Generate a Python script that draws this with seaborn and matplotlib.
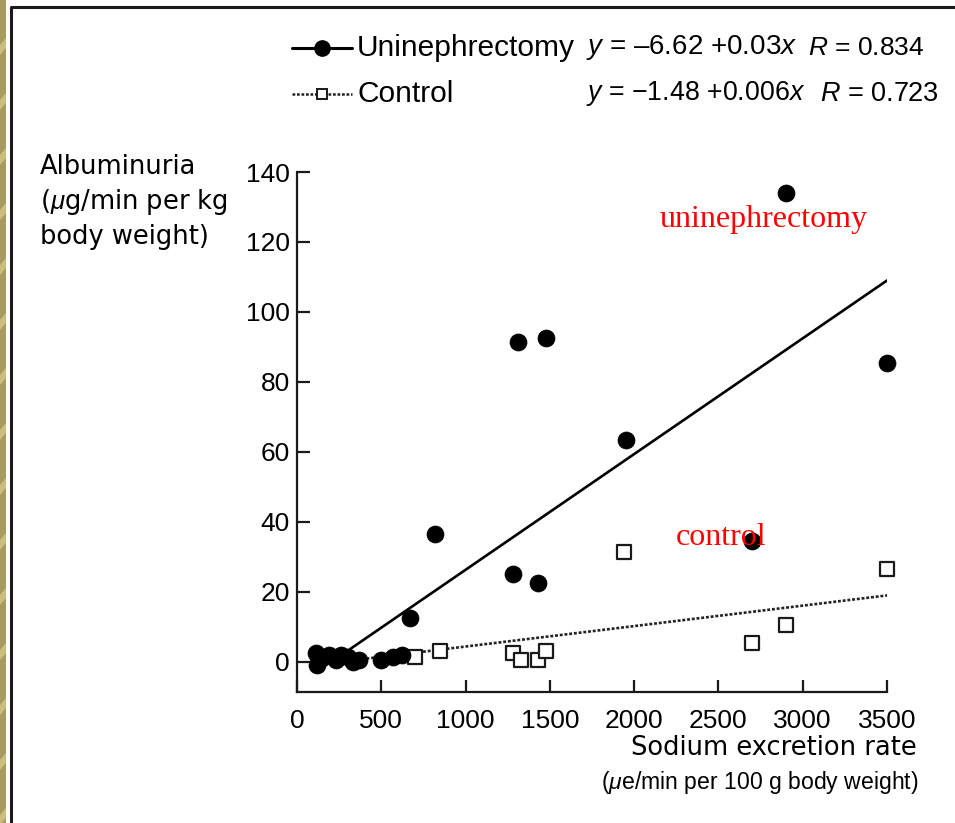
import matplotlib
matplotlib.use("Agg")
import matplotlib.pyplot as plt
import seaborn as sns
from matplotlib.lines import Line2D
from matplotlib.patches import Rectangle, Polygon

# ---------------- data ----------------
uni_x = [110, 120, 150, 190, 230, 260, 300, 330, 370, 500, 570, 620,
         670, 820, 1280, 1310, 1430, 1480, 1950, 2700, 2900, 3500]
uni_y = [2.5, -1.0, 1.0, 2.0, 0.5, 2.0, 1.5, 0.0, 0.5, 0.5, 1.5, 2.0,
         12.5, 36.5, 25.0, 91.5, 22.5, 92.5, 63.5, 34.5, 134.0, 85.5]

ctl_x = [700, 850, 1280, 1330, 1430, 1480, 1940, 2700, 2900, 3500]
ctl_y = [1.5, 3.0, 2.5, 0.5, 0.5, 3.0, 31.5, 5.5, 10.5, 26.5]

uni_fit_x = [310, 3500]
uni_fit_y = [3.5, 109.0]
ctl_fit_x = [300, 3500]
ctl_fit_y = [0.3, 19.0]

x_ticks = [0, 500, 1000, 1500, 2000, 2500, 3000, 3500]
y_ticks = [0, 20, 40, 60, 80, 100, 120, 140]

legend_names = ["Uninephrectomy", "Control"]
legend_eqs = ["$y$ = \u20136.62 +0.03$x$", "$y$ = \u22121.48 +0.006$x$"]
legend_r = ["$R$ = 0.834", "$R$ = 0.723"]

# ---------------- style ----------------
sns.set_style("ticks")
plt.rcParams["font.family"] = ["Liberation Sans", "DejaVu Sans"]
plt.rcParams["mathtext.fontset"] = "custom"
plt.rcParams["mathtext.rm"] = "Liberation Sans"
plt.rcParams["mathtext.it"] = "Liberation Sans:italic"
plt.rcParams["mathtext.bf"] = "Liberation Sans:bold"

INK = "black"
W, H = 955, 823
fig = plt.figure(figsize=(W / 100, H / 100), dpi=100)
fig.patch.set_facecolor("white")


def fx(px):
    return px / W


def fy(py):
    return 1 - py / H


# decorative slide border
fig.add_artist(Rectangle((0, 0), fx(6), 1, transform=fig.transFigure,
                         facecolor="#A99B5F", edgecolor="none", zorder=0))
for k in range(-1, 17):
    y0 = k * 55
    pts = [(fx(0), fy(y0)), (fx(6), fy(y0 - 7)), (fx(6), fy(y0 - 17)),
           (fx(0), fy(y0 - 10))]
    fig.add_artist(Polygon(pts, closed=True, transform=fig.transFigure,
                           facecolor="#CDBE80", edgecolor="none", zorder=0))
fig.add_artist(Line2D([fx(11), fx(11), 1.0], [0, fy(7), fy(7)],
                      transform=fig.transFigure, color="#1a1a1a", lw=2.2))

# ---------------- axes ----------------
ax = fig.add_axes([fx(297), fy(692), fx(887) - fx(297), fy(172) - fy(692)])
ax.set_facecolor("white")
ax.set_xlim(0, 3500)
ax.set_ylim(-8.6, 140)

sns.lineplot(x=uni_fit_x, y=uni_fit_y, color="black", lw=1.9, ax=ax, zorder=2)
sns.lineplot(x=ctl_fit_x, y=ctl_fit_y, color="#222222", lw=1.9,
             linestyle=(0, (1.1, 0.7)), ax=ax, zorder=2)

sns.scatterplot(x=ctl_x, y=ctl_y, marker="s", s=105, color="white",
                edgecolor="#1a1a1a", linewidth=1.6, ax=ax, zorder=3,
                clip_on=False)
sns.scatterplot(x=uni_x, y=uni_y, marker="o", s=150, color="black",
                edgecolor="black", linewidth=0.5, ax=ax, zorder=4,
                clip_on=False)

ax.text(2153, 126.5, "uninephrectomy", color="red", fontsize=23,
        family="Liberation Serif", va="center", ha="left", zorder=6)
ax.text(2248, 35.5, "control", color="red", fontsize=23,
        family="Liberation Serif", va="center", ha="left", zorder=6)

for s in ["top", "right"]:
    ax.spines[s].set_visible(False)
for s in ["left", "bottom"]:
    ax.spines[s].set_linewidth(1.6)
    ax.spines[s].set_color("#1a1a1a")

ax.set_xticks(x_ticks)
ax.set_yticks(y_ticks)
ax.set_xticklabels([str(v) for v in x_ticks])
ax.set_yticklabels([str(v) for v in y_ticks])
ax.tick_params(axis="both", direction="in", length=9, width=1.6,
               colors="#1a1a1a", labelsize=19, labelcolor=INK)
ax.tick_params(axis="x", pad=12)
ax.tick_params(axis="y", pad=5)
ax.set_xlabel("")
ax.set_ylabel("")

# ---------------- axis titles ----------------
WIDE = ["DejaVu Sans"]
ylab = ["Albuminuria", "($\\mu$g/min per kg", "body weight)"]
for i, t in enumerate(ylab):
    fig.text(fx(40), fy(167 + 35 * i), t, fontsize=18.5, va="center",
             ha="left", color=INK, family=WIDE)
fig.text(fx(917), fy(748), "Sodium excretion rate", fontsize=18.5,
         va="center", ha="right", color=INK, family=WIDE)
fig.text(fx(918), fy(783), "($\\mu$e/min per 100 g body weight)",
         fontsize=16.6, va="center", ha="right", color=INK)

# ---------------- legend (manual) ----------------
rows = [48, 94]
fig.add_artist(Line2D([fx(292), fx(352)], [fy(rows[0])] * 2,
                      transform=fig.transFigure, color="black", lw=2.2))
fig.add_artist(Line2D([fx(322)], [fy(rows[0])], transform=fig.transFigure,
                      marker="o", ms=11, color="black", lw=0))
fig.add_artist(Line2D([fx(292), fx(352)], [fy(rows[1])] * 2,
                      transform=fig.transFigure, color="#222222", lw=1.8,
                      linestyle=(0, (1.1, 0.7))))
fig.add_artist(Line2D([fx(322)], [fy(rows[1])], transform=fig.transFigure,
                      marker="s", ms=7.5, mfc="white", mec="#1a1a1a",
                      mew=1.4, lw=0))
eq_sizes = [20, 19.3]
r_sizes = [19, 19.5]
r_pos = [808, 820]
for i, r in enumerate(rows):
    fig.text(fx(357), fy(r), legend_names[i], fontsize=21.5, va="center",
             ha="left", color=INK)
    fig.text(fx(586), fy(r), legend_eqs[i], fontsize=eq_sizes[i],
             va="center", ha="left", color=INK)
    fig.text(fx(r_pos[i]), fy(r), legend_r[i], fontsize=r_sizes[i],
             va="center", ha="left", color=INK)

fig.savefig("out.png", dpi=100, facecolor="white")
